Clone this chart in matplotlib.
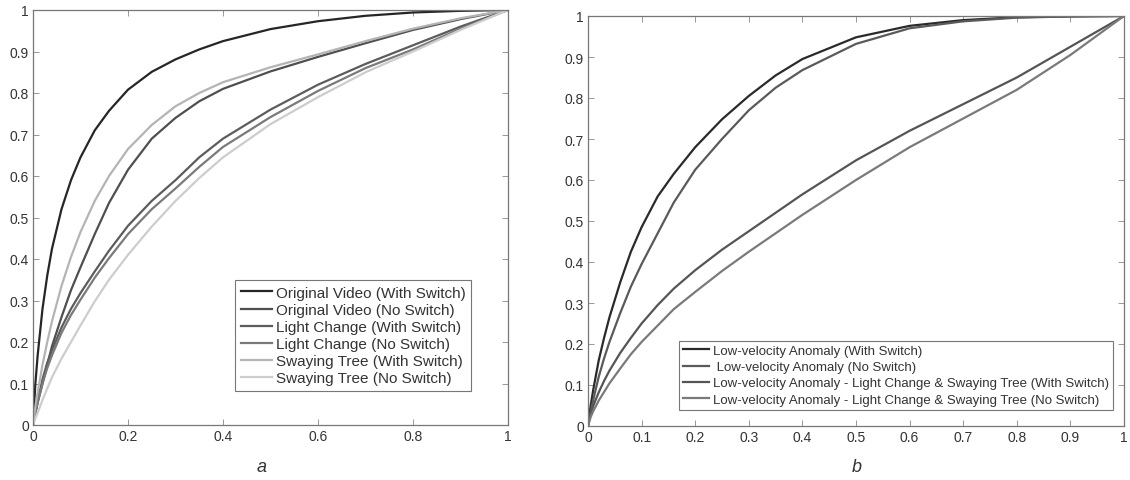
import numpy as np
import matplotlib
matplotlib.use("Agg")
import matplotlib.pyplot as plt

plt.rcParams['font.family'] = ['Liberation Sans', 'DejaVu Sans']

# common x grid for both panels (false positive rate)
x_grid = [0, 0.005, 0.01, 0.02, 0.03, 0.04, 0.06, 0.08, 0.1, 0.13, 0.16,
          0.2, 0.25, 0.3, 0.35, 0.4, 0.5, 0.6, 0.7, 0.8, 0.9, 1.0]

# panel a
labels_a = ["Original Video (With Switch)", "Original Video (No Switch)",
            "Light Change (With Switch)", "Light Change (No Switch)",
            "Swaying Tree (With Switch)", "Swaying Tree (No Switch)"]
orig_with = [0, 0.1, 0.17, 0.28, 0.36, 0.425, 0.52, 0.59, 0.645, 0.71, 0.757,
             0.808, 0.851, 0.881, 0.905, 0.925, 0.954, 0.973, 0.986, 0.994, 0.998, 1]
orig_no = [0, 0.03, 0.055, 0.1, 0.145, 0.19, 0.26, 0.325, 0.38, 0.46, 0.535,
           0.615, 0.69, 0.74, 0.78, 0.81, 0.852, 0.887, 0.92, 0.952, 0.978, 1]
light_with = [0, 0.03, 0.06, 0.11, 0.15, 0.18, 0.235, 0.28, 0.318, 0.37, 0.42,
              0.48, 0.54, 0.59, 0.645, 0.69, 0.76, 0.82, 0.87, 0.915, 0.96, 1]
light_no = [0, 0.028, 0.055, 0.1, 0.137, 0.168, 0.222, 0.265, 0.302, 0.355, 0.402,
            0.46, 0.52, 0.57, 0.622, 0.67, 0.742, 0.805, 0.86, 0.905, 0.955, 1]
sway_with = [0, 0.045, 0.08, 0.145, 0.2, 0.25, 0.335, 0.405, 0.465, 0.54, 0.6,
             0.665, 0.723, 0.768, 0.8, 0.826, 0.862, 0.893, 0.925, 0.955, 0.98, 1]
sway_no = [0, 0.016, 0.03, 0.06, 0.088, 0.115, 0.16, 0.2, 0.24, 0.298, 0.35,
           0.41, 0.478, 0.54, 0.595, 0.645, 0.725, 0.79, 0.85, 0.9, 0.952, 1]

# panel b
labels_b = ["Low-velocity Anomaly (With Switch)", " Low-velocity Anomaly (No Switch)",
            "Low-velocity Anomaly - Light Change & Swaying Tree (With Switch)",
            "Low-velocity Anomaly - Light Change & Swaying Tree (No Switch)"]
lv_with = [0, 0.05, 0.09, 0.16, 0.215, 0.265, 0.35, 0.425, 0.485, 0.56, 0.615,
           0.68, 0.748, 0.805, 0.855, 0.895, 0.948, 0.976, 0.99, 0.997, 0.999, 1]
lv_no = [0, 0.035, 0.065, 0.12, 0.165, 0.205, 0.275, 0.34, 0.395, 0.47, 0.545,
         0.625, 0.7, 0.77, 0.825, 0.868, 0.932, 0.97, 0.987, 0.996, 0.999, 1]
lvmix_with = [0, 0.03, 0.05, 0.082, 0.11, 0.135, 0.178, 0.215, 0.25, 0.295, 0.335,
              0.38, 0.43, 0.475, 0.52, 0.565, 0.648, 0.72, 0.785, 0.85, 0.925, 1]
lvmix_no = [0, 0.022, 0.037, 0.062, 0.083, 0.104, 0.14, 0.175, 0.205, 0.245, 0.285,
            0.327, 0.378, 0.425, 0.47, 0.515, 0.6, 0.68, 0.75, 0.82, 0.905, 1]

colors_a = ["#262626", "#4f4f4f", "#5c5c5c", "#7a7a7a", "#b4b4b4", "#cdcdcd"]
colors_b = ["#2a2a2a", "#5a5a5a", "#555555", "#7a7a7a"]


def style_axes(ax, xticks):
    yticks = np.round(np.arange(0, 1.01, 0.1), 1)
    ax.set_xlim(0, 1)
    ax.set_ylim(0, 1)
    ax.set_xticks(xticks)
    ax.set_yticks(yticks)
    ax.set_xticklabels([f"{t:g}" for t in xticks])
    ax.set_yticklabels([f"{t:g}" for t in yticks])
    ax.tick_params(direction="in", top=True, right=True, length=4,
                   width=0.6, color="#888888", labelsize=10,
                   labelcolor="#333333", pad=3)
    for s in ax.spines.values():
        s.set_color("#777777")
        s.set_linewidth(0.9)


def style_legend(leg):
    leg.get_frame().set_linewidth(0.8)
    for t in leg.get_texts():
        t.set_color("#333333")


fig = plt.figure(figsize=(11.3, 4.81), dpi=100)
ax_a = fig.add_axes([33 / 1130, 55 / 481, 475 / 1130, 415 / 481])
ax_b = fig.add_axes([588 / 1130, 54 / 481, 536 / 1130, 410 / 481])

series_a = [orig_with, orig_no, light_with, light_no, sway_with, sway_no]
for y, c, lab in zip(series_a, colors_a, labels_a):
    ax_a.plot(x_grid, y, color=c, lw=1.6, label=lab)
style_axes(ax_a, [0, 0.2, 0.4, 0.6, 0.8, 1.0])
leg = ax_a.legend(loc="lower right", bbox_to_anchor=(0.939, 0.063),
                  fontsize=11, handlelength=2.0, handletextpad=0.25,
                  labelspacing=0.2, borderpad=0.4, fancybox=False,
                  framealpha=1, edgecolor="#777777")
style_legend(leg)

series_b = [lv_with, lv_no, lvmix_with, lvmix_no]
for y, c, lab in zip(series_b, colors_b, labels_b):
    ax_b.plot(x_grid, y, color=c, lw=1.6, label=lab)
style_axes(ax_b, np.round(np.arange(0, 1.01, 0.1), 1))
leg = ax_b.legend(loc="lower right", bbox_to_anchor=(0.992, 0.024),
                  fontsize=9.5, handlelength=2.0, handletextpad=0.3,
                  labelspacing=0.3, borderpad=0.3, fancybox=False,
                  framealpha=1, edgecolor="#777777")
style_legend(leg)

fig.text(262 / 1130, 1 - 468 / 481, "a", fontsize=13, style="italic",
         color="#333333", ha="center", va="center")
fig.text(857 / 1130, 1 - 468 / 481, "b", fontsize=13, style="italic",
         color="#333333", ha="center", va="center")

fig.savefig("out.png", dpi=100)
